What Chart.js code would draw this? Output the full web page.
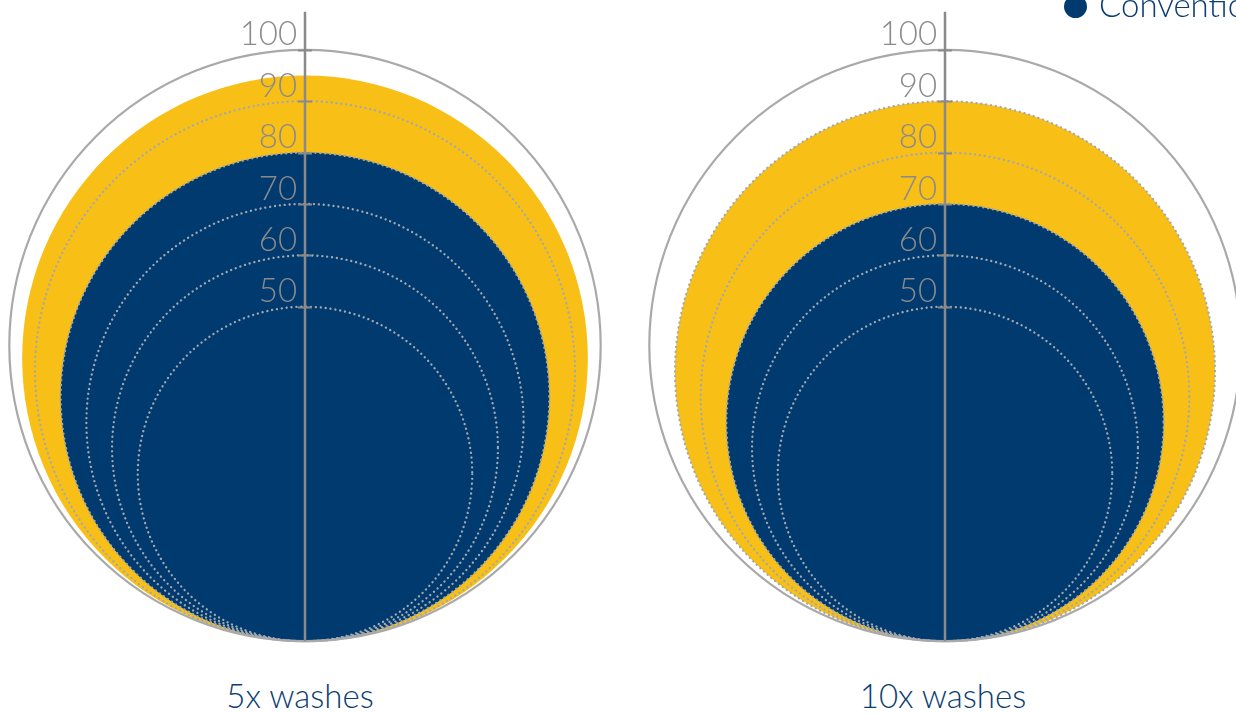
<!DOCTYPE html>
<html>
<head>
<meta charset="utf-8">
<script src="https://cdn.jsdelivr.net/npm/chart.js@4"></script>
<style>
  html, body { margin: 0; padding: 0; background: #fff; overflow: hidden; }
  #page { position: relative; width: 1236px; height: 713px; overflow: hidden; }
  .panel { position: absolute; top: -17px; width: 610px; height: 687px; }
  .title {
    position: absolute; top: 675px; width: 610px; text-align: center;
    font-family: "Lato", sans-serif; font-weight: 300; font-size: 33px; color: #0b3d73;
  }
  #legend {
    position: absolute; left: 1064px; top: -16px; white-space: nowrap;
    font-family: "Lato", sans-serif; font-weight: 300; font-size: 33px; color: #0b3d73;
  }
  #legend .dot {
    display: inline-block; width: 23px; height: 23px; border-radius: 50%;
    background: #003a6e; margin-right: 12px; vertical-align: -1px;
  }
</style>
</head>
<body>
<div id="page">
  <div class="panel" style="left:0"><canvas id="chart5"></canvas></div>
  <div class="panel" style="left:640px"><canvas id="chart10"></canvas></div>
  <div class="title" style="left:-5px">5x washes</div>
  <div class="title" style="left:638px">10x washes</div>
  <div id="legend"><span class="dot"></span>Conventional</div>
</div>
<script>
// ---- data ----
const categories = ["5x washes", "10x washes"];
const yellowValues = [95, 90];        // outer (yellow) circle
const conventionalValues = [80, 70];  // Conventional (navy)
const tickValues = [50, 60, 70, 80, 90, 100];

const BOTTOM = -15.1; // value where all circles touch
const TOP = 107.4;

const YELLOW = "#f8bf16";
const NAVY = "#003a6e";

// circles all sit on the same bottom point: centre halfway between BOTTOM and value
function circlePoint(v) {
  return { x: 0, y: (v + BOTTOM) / 2, v: v };
}
function circleRadius(ctx) {
  const y = ctx.chart.scales.y;
  const v = ctx.raw ? ctx.raw.v : 0;
  return (y.getPixelForValue(BOTTOM) - y.getPixelForValue(v)) / 2;
}

// dotted ring gridlines, centre axis line + cross tick marks
const ringGrid = {
  id: "ringGrid",
  afterDatasetsDraw(chart) {
    const y = chart.scales.y, x = chart.scales.x;
    const c = chart.ctx;
    const cx = x.getPixelForValue(0);
    const yb = y.getPixelForValue(BOTTOM);
    c.save();
    tickValues.forEach((t) => {
      const yt = y.getPixelForValue(t);
      const r = (yb - yt) / 2;
      c.beginPath();
      c.arc(cx, yt + r, r, 0, Math.PI * 2);
      if (t === 100) {
        c.setLineDash([]);
        c.strokeStyle = "#a9a9ab";
        c.lineWidth = 2.2;
      } else {
        c.setLineDash([0.1, 4.8]);
        c.lineCap = "round";
        c.strokeStyle = "#a3a8b0";
        c.lineWidth = 2.3;
      }
      c.stroke();
    });
    c.setLineDash([]);
    c.lineCap = "butt";
    c.strokeStyle = "#8a8a8c";
    c.lineWidth = 2.5;
    c.beginPath();
    c.moveTo(cx, chart.chartArea.top);
    c.lineTo(cx, chart.chartArea.bottom);
    c.stroke();
    c.lineWidth = 2;
    tickValues.forEach((t) => {
      const yt = Math.round(y.getPixelForValue(t)) + 0.5;
      c.beginPath();
      c.moveTo(cx - 7, yt);
      c.lineTo(cx + 7, yt);
      c.stroke();
    });
    c.restore();
  },
};

function makeChart(id, i) {
  new Chart(document.getElementById(id), {
    type: "scatter",
    data: {
      datasets: [
        {
          label: "Conventional",
          data: [circlePoint(conventionalValues[i])],
          backgroundColor: NAVY,
          borderWidth: 0,
          pointRadius: circleRadius,
          pointHoverRadius: circleRadius,
        },
        {
          label: "Yellow",
          data: [circlePoint(yellowValues[i])],
          backgroundColor: YELLOW,
          borderWidth: 0,
          pointRadius: circleRadius,
          pointHoverRadius: circleRadius,
        },
      ],
    },
    options: {
      responsive: true,
      maintainAspectRatio: false,
      animation: false,
      events: [],
      layout: { padding: { top: 10, bottom: 10, left: 0, right: 0 } },
      scales: {
        x: { type: "linear", min: -1, max: 1, display: false },
        y: {
          type: "linear",
          min: BOTTOM,
          max: TOP,
          position: { x: -0.026 },
          afterBuildTicks: (scale) => {
            scale.ticks = tickValues.map((v) => ({ value: v }));
          },
          grid: { display: false },
          border: { display: false },
          ticks: {
            z: 1,
            autoSkip: false,
            color: "#8a8a8c",
            font: { family: "Lato", size: 33, weight: "300" },
            padding: 9,
            labelOffset: -15,
          },
        },
      },
      plugins: {
        legend: { display: false },
        tooltip: { enabled: false },
      },
    },
    plugins: [ringGrid],
  });
}

makeChart("chart5", 0);
makeChart("chart10", 1);
</script>
</body>
</html>
